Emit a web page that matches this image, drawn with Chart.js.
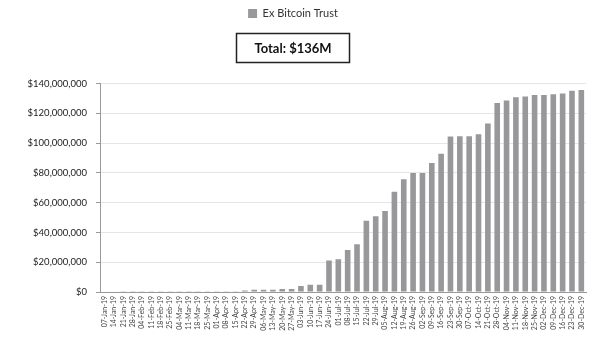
<!DOCTYPE html>
<html>
<head>
<meta charset="utf-8">
<script src="https://cdn.jsdelivr.net/npm/chart.js@4"></script>
<style>
	html, body { margin: 0; padding: 0; background: #fff; }
	#wrap { width: 600px; height: 342px; }
</style>
</head>
<body>
<div id="wrap"><canvas id="trust-chart" width="600" height="342"></canvas></div>
<script>
const weeks = [
	"07-Jan-19", "14-Jan-19", "21-Jan-19", "28-Jan-19", "04-Feb-19", "11-Feb-19", "18-Feb-19", "25-Feb-19",
	"04-Mar-19", "11-Mar-19", "18-Mar-19", "25-Mar-19", "01-Apr-19", "08-Apr-19", "15-Apr-19", "22-Apr-19",
	"29-Apr-19", "06-May-19", "13-May-19", "20-May-19", "27-May-19", "03-Jun-19", "10-Jun-19", "17-Jun-19",
	"24-Jun-19", "01-Jul-19", "08-Jul-19", "15-Jul-19", "22-Jul-19", "29-Jul-19", "05-Aug-19", "12-Aug-19",
	"19-Aug-19", "26-Aug-19", "02-Sep-19", "09-Sep-19", "16-Sep-19", "23-Sep-19", "30-Sep-19", "07-Oct-19",
	"14-Oct-19", "21-Oct-19", "28-Oct-19", "04-Nov-19", "11-Nov-19", "18-Nov-19", "25-Nov-19", "02-Dec-19",
	"09-Dec-19", "16-Dec-19", "23-Dec-19", "30-Dec-19",
];

// cumulative holdings, USD
const holdings = [
	0, 0, 500000, 500000, 500000, 500000, 500000, 500000,
	500000, 500000, 500000, 500000, 500000, 500000, 500000, 1000000,
	1500000, 1500000, 1500000, 2000000, 2000000, 4000000, 4900000, 4900000,
	21200000, 22000000, 28200000, 32000000, 47800000, 50900000, 54400000, 67300000,
	75800000, 80000000, 80000000, 86700000, 92800000, 104400000, 104600000, 104600000,
	105900000, 113200000, 127000000, 128600000, 130800000, 131400000, 132300000, 132300000,
	132800000, 133400000, 135200000, 135700000,
];

const seriesName = "Ex Bitcoin Trust";
const totalLabel = "Total: $136M";
const yTicks = [0, 20000000, 40000000, 60000000, 80000000, 100000000, 120000000, 140000000];

const barGrey = "#98989b";
const fontFamily = "Lato, 'Open Sans', sans-serif";

// draws the frame round the title text
const titleFrame = {
	id: "titleFrame",
	afterDraw(chart) {
		const tb = chart.titleBlock;
		if (!tb) return;
		const ctx = chart.ctx;
		const opts = chart.options.plugins.title;
		ctx.save();
		ctx.font = "bold " + opts.font.size + "px " + fontFamily;
		const w = ctx.measureText(opts.text).width + 36;
		const h = 29;
		const cx = (tb.left + tb.right) / 2;
		const cy = tb.top + opts.padding.top + opts.font.size / 2;
		ctx.strokeStyle = "#222";
		ctx.lineWidth = 1.5;
		ctx.strokeRect(Math.round(cx - w / 2) + 0.5, Math.round(cy - h / 2) + 0.5, Math.round(w), h);
		ctx.restore();
	},
};

const trustChart = new Chart(document.getElementById("trust-chart"), {
	type: "bar",
	data: {
		labels: weeks,
		datasets: [
			{
				label: seriesName,
				data: holdings,
				backgroundColor: barGrey,
				hoverBackgroundColor: barGrey,
				categoryPercentage: 1,
				barPercentage: 0.6,
			},
		],
	},
	options: {
		responsive: false,
		animation: false,
		layout: {
			padding: { top: 2, right: 14, bottom: 0, left: 0 },
		},
		plugins: {
			legend: {
				position: "top",
				labels: {
					boxWidth: 9,
					boxHeight: 9,
					padding: 6,
					color: "#333",
					font: { family: fontFamily, size: 11 },
				},
			},
			title: {
				display: true,
				text: totalLabel,
				weight: 500,
				color: "#111",
				font: { family: fontFamily, size: 13, weight: "bold" },
				padding: { top: 12, bottom: 27 },
			},
			tooltip: { enabled: false },
		},
		scales: {
			x: {
				grid: { display: false, drawTicks: false },
				border: { display: true, color: "#999" },
				ticks: {
					autoSkip: false,
					maxRotation: 90,
					minRotation: 90,
					padding: 4,
					color: "#444",
					font: { family: fontFamily, size: 7 },
				},
				afterFit(scale) {
					scale.height = 50;
				},
			},
			y: {
				min: 0,
				max: 140000000,
				afterBuildTicks(scale) {
					scale.ticks = yTicks.map((v) => ({ value: v }));
				},
				grid: {
					color: "#e6e6e6",
					tickColor: "#999",
					tickLength: 4,
				},
				border: { display: true, color: "#999" },
				ticks: {
					padding: 9,
					color: "#222",
					font: { family: fontFamily, size: 9.5 },
					callback: function (value) {
						return "$" + value.toLocaleString("en-US");
					},
				},
				afterFit(scale) {
					scale.width = 100;
				},
			},
		},
	},
	plugins: [titleFrame],
});
</script>
</body>
</html>
